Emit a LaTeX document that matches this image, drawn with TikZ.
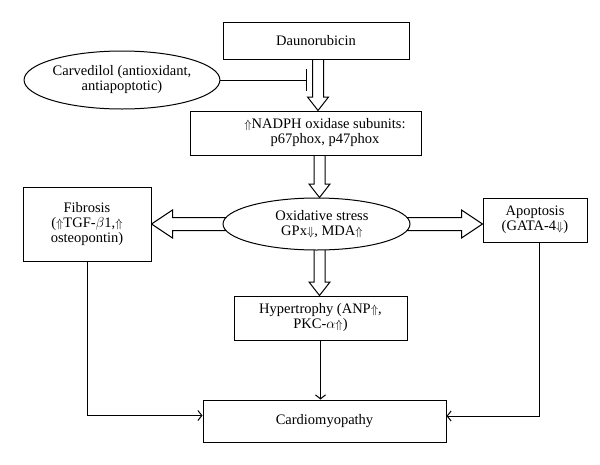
\documentclass[tikz,border=0pt]{standalone}
\usepackage{fontspec}
\setmainfont{Liberation Serif}
\usetikzlibrary{arrows.meta,calc,backgrounds,shapes.geometric}
\newcommand\up{{\fontsize{11.5}{11.5}\selectfont$\Uparrow$}}
\newcommand\dn{{\fontsize{11.5}{11.5}\selectfont$\Downarrow$}}
% vertical hollow block arrow: #1 start node anchor, #2 end anchor (tip y), #3 x offset
\newcommand\vblock[3]{\draw[blk] let \p1=(#1), \p2=(#2) in
  ({\x1+(#3)*1pt-5.5pt},\y1) -- ({\x1+(#3)*1pt-5.5pt},{\y2+13.5pt}) -- ({\x1+(#3)*1pt-10.5pt},{\y2+13.5pt})
  -- ({\x1+(#3)*1pt},\y2) -- ({\x1+(#3)*1pt+10.5pt},{\y2+13.5pt}) -- ({\x1+(#3)*1pt+5.5pt},{\y2+13.5pt})
  -- ({\x1+(#3)*1pt+5.5pt},\y1);}
% horizontal hollow block arrow: #1 start, #2 tip, #3 signed head length
\newcommand\hblock[3]{\draw[blk] let \p1=(#1), \p2=(#2) in
  (\x1,{\y1+6.5pt}) -- ({\x2+(#3)*1pt},{\y1+6.5pt}) -- ({\x2+(#3)*1pt},{\y1+14pt})
  -- (\x2,\y1) -- ({\x2+(#3)*1pt},{\y1-14pt}) -- ({\x2+(#3)*1pt},{\y1-6.5pt}) -- (\x1,{\y1-6.5pt});}
\begin{document}
\begin{tikzpicture}[x=1pt,y=-1pt,
  every node/.style={font=\fontsize{14.5}{15}\selectfont, text=black},
  box/.style={draw, line width=1pt, fill=white, inner sep=0pt, align=center},
  oval/.style={draw, ellipse, line width=1pt, fill=white, inner sep=0pt, align=center},
  blk/.style={draw, line width=1pt, line join=miter, fill=white},
  conn/.style={draw, line width=1pt, -{Straight Barb[length=4pt,width=10pt]}},
  txt/.style={align=center, inner sep=0pt}]
\useasboundingbox (0,0) rectangle (600,464);

\node[box, minimum width=186pt, minimum height=37pt] (dauno) at (316,40.5) {Daunorubicin};
\node[oval, minimum width=192pt, minimum height=58pt] (carv) at (122,80) {Carvedilol (antioxidant,\\antiapoptotic)};
\node[box, minimum width=231pt, minimum height=44pt] (nadph) at (305.5,133) {};
\node[txt] (nadphT) at (325,133) {\up NADPH oxidase subunits:\\p67phox, p47phox};
\node[oval, minimum width=187pt, minimum height=52pt] (ox) at (316.5,224) {};
\node[txt] (oxT) at (322,224) {Oxidative stress\\GPx\dn, MDA\up};
\node[box, minimum width=128pt, minimum height=74pt] (fib) at (87,224) {Fibrosis\\(\up TGF-$\beta$1,\up\\osteopontin)};
\node[box, minimum width=104pt, minimum height=44pt] (apo) at (535,220) {Apoptosis\\(GATA-4\dn)};
\node[box, minimum width=173pt, minimum height=44pt] (hyp) at (320.5,318) {Hypertrophy (ANP\up,\\PKC-$\alpha$\up)};
\node[box, minimum width=243pt, minimum height=42pt] (cardio) at (324.5,421) {Cardiomyopathy};

\begin{scope}[on background layer]
  \vblock{dauno.center}{nadph.north}{2}
  \vblock{nadph.center}{ox.north}{14}
  \vblock{ox.center}{hyp.north}{3}
  \hblock{ox.center}{fib.east}{21}
  \hblock{ox.center}{apo.west}{-21}
\end{scope}

\coordinate (inh) at (307,80);
\draw[line width=1pt, -{Bar[width=22pt,line width=1pt]}] (carv.east) -- (inh);

\draw[conn] (fib.south) |- ($(cardio.west)+(0,-5.5)$);
\draw[conn] ($(apo.south)+(4,0)$) |- ($(cardio.east)+(0,-5)$);
\draw[conn] (hyp.south) -- (hyp.south |- cardio.north);
\end{tikzpicture}
\end{document}
